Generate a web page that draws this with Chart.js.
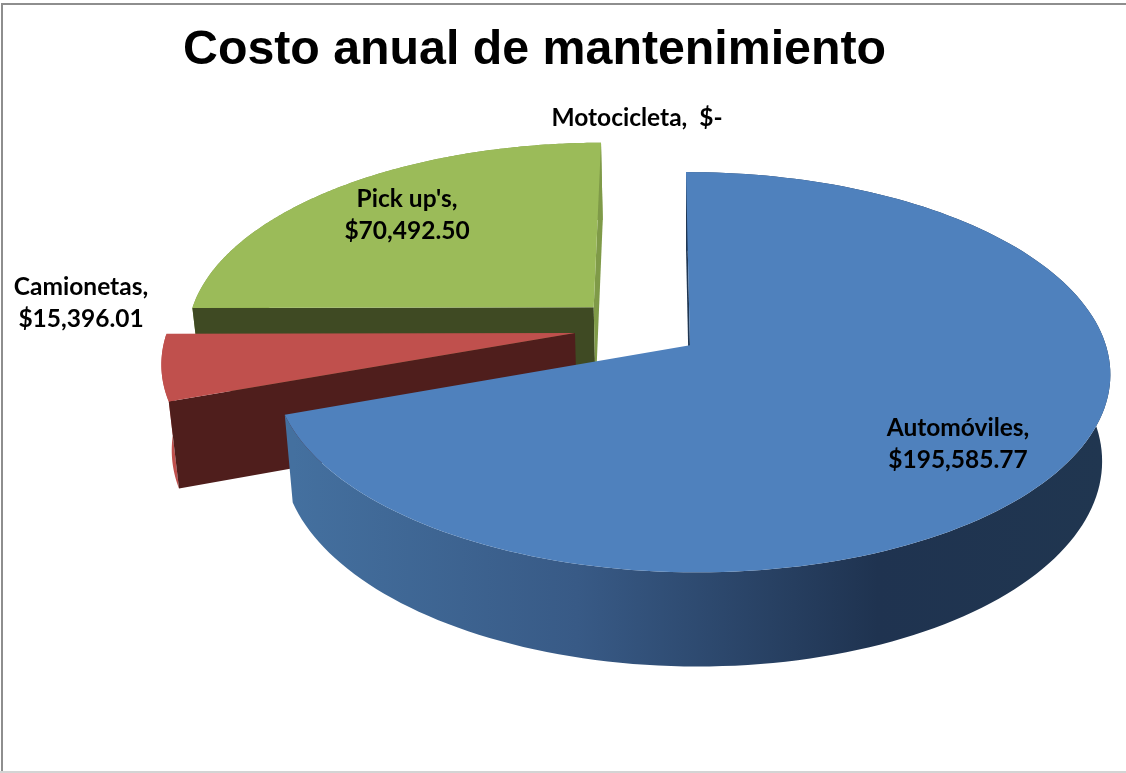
<!DOCTYPE html>
<html>
<head>
<meta charset="utf-8">
<title>Costo anual de mantenimiento</title>
<script src="https://cdn.jsdelivr.net/npm/chart.js@4"></script>
<style>
  html, body { margin: 0; padding: 0; background: #fff; }
  #wrap { position: relative; width: 1126px; height: 773px; }
</style>
</head>
<body>
<div id="wrap"><canvas id="chart" width="1126" height="773"></canvas></div>
<script>
'use strict';

const categories = ['Automóviles', 'Camionetas', "Pick up's", 'Motocicleta'];
const costs = [195585.77, 15396.01, 70492.50, 0];
const costLabels = ['$195,585.77', '$15,396.01', '$70,492.50', '$-'];
const topColors = ['#4F81BD', '#C0504D', '#9BBB59', '#8064A2'];
const startCutColors = ['#1F3652', '#4F1E1C', '#3F4A23', '#3A2D4A'];
const endCutColors = ['#1F3652', '#4F1E1C', '#7F9A48', '#3A2D4A'];
const wallColors = ['#1F3350', '#C0504D', '#7F9A48', '#8064A2'];

// label centres, not data
const labelSpots = [[958, 444], [81, 303], [407, 215], [637, 118]];

// fake 3D camera for the pie plane
const view = { ax: 690, ay: 345, a: 414.2, b: 196.4, shear: 4.5, k: 0.135, m: 0.004, depth: 87, drop: 0.02 };
const pieCentre = { u: -0.127, v: -0.088 };
const EXPLODE = 0.155;

function project(u, v, z) {
  const w = (1 - view.k * v - view.m * u) * (1 + view.drop * z);
  return {
    x: view.ax + (view.a * u + view.shear * v) / w,
    y: view.ay + (view.b * v + view.depth * z) / w
  };
}

function rimPoints(arc, z, reverse) {
  const mid = (arc.startAngle + arc.endAngle) / 2;
  const ou = pieCentre.u + EXPLODE * Math.cos(mid);
  const ov = pieCentre.v + EXPLODE * Math.sin(mid);
  const steps = 160;
  const pts = [];
  for (let i = 0; i <= steps; i++) {
    const t = arc.startAngle + (arc.endAngle - arc.startAngle) * i / steps;
    pts.push(project(ou + Math.cos(t), ov + Math.sin(t), z));
  }
  return reverse ? pts.reverse() : pts;
}

function apexPoint(arc, z) {
  const mid = (arc.startAngle + arc.endAngle) / 2;
  return project(pieCentre.u + EXPLODE * Math.cos(mid), pieCentre.v + EXPLODE * Math.sin(mid), z);
}

function fillPoly(ctx, pts, fill) {
  ctx.beginPath();
  pts.forEach((p, i) => (i ? ctx.lineTo(p.x, p.y) : ctx.moveTo(p.x, p.y)));
  ctx.closePath();
  ctx.fillStyle = fill;
  ctx.fill();
}

function blueWall(ctx) {
  const g = ctx.createLinearGradient(293, 0, 1105, 0);
  g.addColorStop(0, '#44709F');
  g.addColorStop(0.35, '#385A86');
  g.addColorStop(0.72, '#1F3350');
  g.addColorStop(1, '#203650');
  return g;
}

function drawSlice(ctx, arc, i) {
  if (arc.endAngle - arc.startAngle <= 0) return;
  const top = rimPoints(arc, 0, false);
  const low = rimPoints(arc, 1, true);
  const apexTop = apexPoint(arc, 0);
  const apexLow = apexPoint(arc, 1);
  const first = top[0], last = top[top.length - 1];
  const firstLow = low[low.length - 1], lastLow = low[0];

  fillPoly(ctx, top.concat(low), i === 0 ? blueWall(ctx) : wallColors[i]);
  // only the cut faces turned to the viewer show
  if (Math.cos(arc.startAngle) <= 1e-6) {
    fillPoly(ctx, [apexTop, first, firstLow, apexLow], startCutColors[i]);
  }
  if (Math.cos(arc.endAngle) >= -1e-6) {
    fillPoly(ctx, [apexTop, last, lastLow, apexLow], endCutColors[i]);
  }
  fillPoly(ctx, [apexTop].concat(top), arc.options.backgroundColor);
}

function drawLabels(ctx) {
  ctx.fillStyle = '#000';
  ctx.font = 'bold 24.5px Lato, sans-serif';
  ctx.textAlign = 'center';
  ctx.textBaseline = 'middle';
  categories.forEach((name, i) => {
    const [x, y] = labelSpots[i];
    if (costs[i] === 0) {
      ctx.fillText(name + ',  ' + costLabels[i], x, y);
    } else {
      ctx.fillText(name + ',', x, y - 16);
      ctx.fillText(costLabels[i], x, y + 16);
    }
  });
}

const pie3d = {
  id: 'pie3d',
  beforeDraw(chart) {
    const ctx = chart.ctx;
    ctx.save();
    ctx.fillStyle = '#8E8E8E';
    ctx.fillRect(1, 3, 1125, 2);
    ctx.fillRect(1, 3, 2, 770);
    ctx.fillStyle = '#D4D4D4';
    ctx.fillRect(0, 771, 1126, 2);
    ctx.restore();
  },
  beforeDatasetsDraw(chart) {
    const ctx = chart.ctx;
    const arcs = chart.getDatasetMeta(0).data;
    ctx.save();
    // back to front
    [2, 1, 3, 0].forEach(i => drawSlice(ctx, arcs[i], i));
    drawLabels(ctx);
    ctx.restore();
    return false;
  }
};

new Chart(document.getElementById('chart'), {
  type: 'pie',
  data: {
    labels: categories,
    datasets: [{ data: costs, backgroundColor: topColors, borderWidth: 0 }]
  },
  options: {
    responsive: false,
    animation: false,
    layout: { padding: { left: 183, top: 22 } },
    plugins: {
      legend: { display: false },
      tooltip: { enabled: false },
      title: {
        display: true,
        text: 'Costo anual de mantenimiento',
        align: 'start',
        color: '#000',
        font: { family: '"Liberation Sans", Arial, sans-serif', size: 48.3, weight: 'bold' },
        padding: 0
      }
    }
  },
  plugins: [pie3d]
});
</script>
</body>
</html>
